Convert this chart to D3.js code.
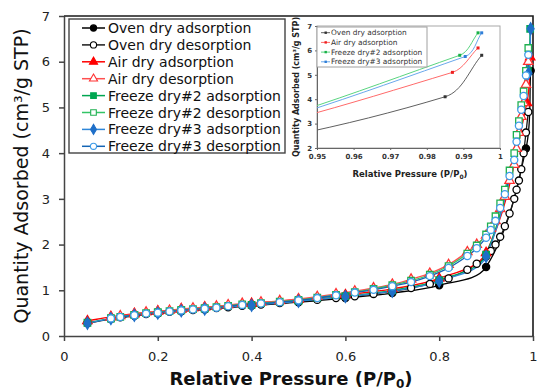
<!DOCTYPE html>
<html><head><meta charset="utf-8">
<script src="https://cdn.jsdelivr.net/npm/d3@7"></script>
<style>html,body{margin:0;padding:0;background:#fff;} svg{display:block;}</style>
</head><body>
<svg id="c" width="537" height="392"></svg>
<script>
// ---------------- DATA ----------------
const xTicks = [0, 0.2, 0.4, 0.6, 0.8, 1];
const yTicks = [0, 1, 2, 3, 4, 5, 6, 7];
const insetXTicks = [0.95, 0.96, 0.97, 0.98, 0.99, 1];
const insetYTicks = [2, 3, 4, 5, 6, 7];

const seriesNames = ["Oven dry adsorption", "Oven dry desorption", "Air dry adsorption", "Air dry desorption",
  "Freeze dry#2 adsorption", "Freeze dry#2 desorption", "Freeze dry#3 adsorption", "Freeze dry#3 desorption"];
const insetNames = ["Oven dry adsorption", "Air dry adsorption", "Freeze dry#2 adsorption", "Freeze dry#3 adsorption"];

const ovenAdsP = [0.05,0.1,0.15,0.2,0.25,0.3,0.4,0.5,0.6,0.7,0.8,0.9,0.985,0.995];
const ovenAdsQ = [0.28,0.37,0.44,0.49,0.54,0.58,0.66,0.74,0.83,0.94,1.11,1.51,4.10,5.80];
const airAdsP  = [0.05,0.1,0.15,0.2,0.25,0.3,0.4,0.5,0.6,0.7,0.8,0.9,0.987,0.994];
const airAdsQ  = [0.33,0.42,0.49,0.54,0.59,0.63,0.71,0.80,0.90,1.03,1.26,1.82,5.10,6.10];
const fd2AdsP  = [0.05,0.1,0.15,0.2,0.25,0.3,0.4,0.5,0.6,0.7,0.8,0.9,0.989,0.994];
const fd2AdsQ  = [0.29,0.38,0.46,0.51,0.56,0.60,0.68,0.77,0.87,1.00,1.22,1.78,5.80,6.72];
const fd3AdsP  = [0.05,0.1,0.15,0.2,0.25,0.3,0.4,0.5,0.6,0.7,0.8,0.9,0.9905,0.995];
const fd3AdsQ  = [0.28,0.38,0.45,0.50,0.55,0.59,0.67,0.76,0.86,0.98,1.20,1.74,5.75,6.72];

const desP = [0.99,0.985,0.98,0.975,0.97,0.965,0.96,0.95,0.94,0.93,0.92,0.91,0.9,0.88,0.86,0.82,0.78,0.74,0.7,0.66,0.62,0.58,0.54,0.5,0.46,0.42,0.38,0.35,0.325,0.3,0.275,0.25,0.225,0.2,0.175,0.15,0.12,0.1];
const ovenDesQ = [4.90,4.45,4.00,3.65,3.40,3.20,3.00,2.68,2.40,2.17,2.00,1.86,1.74,1.58,1.45,1.26,1.14,1.05,0.98,0.92,0.87,0.83,0.79,0.75,0.72,0.69,0.66,0.63,0.61,0.59,0.57,0.55,0.53,0.51,0.48,0.45,0.41,0.38];
const airDesQ  = [6.00,5.50,5.10,4.80,4.45,4.10,3.75,3.40,3.05,2.78,2.52,2.35,2.20,2.00,1.84,1.56,1.37,1.24,1.13,1.05,0.98,0.92,0.86,0.81,0.77,0.74,0.71,0.68,0.65,0.63,0.61,0.59,0.56,0.54,0.52,0.48,0.44,0.41];
const fd2DesQ  = [6.30,5.80,5.35,5.05,4.70,4.40,4.00,3.62,3.20,2.90,2.62,2.40,2.22,1.98,1.80,1.53,1.34,1.21,1.11,1.03,0.96,0.90,0.84,0.79,0.75,0.72,0.69,0.66,0.63,0.61,0.59,0.57,0.545,0.52,0.50,0.46,0.42,0.39];
const fd3DesQ  = [6.15,5.70,5.25,4.95,4.60,4.25,3.85,3.50,3.10,2.80,2.52,2.32,2.15,1.92,1.75,1.49,1.31,1.18,1.09,1.01,0.95,0.89,0.83,0.78,0.74,0.71,0.68,0.65,0.62,0.60,0.58,0.56,0.535,0.51,0.49,0.455,0.415,0.385];

// ---------------- STYLE ----------------
const FONT = "DejaVu Sans, Verdana, sans-serif";
const series = [
  {name: seriesNames[0], p: ovenAdsP, q: ovenAdsQ, shape: d3.symbolCircle,   size: 40, line: "#000000", fill: "#000000", stroke: "#000000"},
  {name: seriesNames[1], p: desP,     q: ovenDesQ, shape: d3.symbolCircle,   size: 40, line: "#1a1a1a", fill: "#ffffff", stroke: "#000000"},
  {name: seriesNames[2], p: airAdsP,  q: airAdsQ,  shape: d3.symbolTriangle, size: 38, line: "#ff0000", fill: "#ff0000", stroke: "#ff0000"},
  {name: seriesNames[3], p: desP,     q: airDesQ,  shape: d3.symbolTriangle, size: 38, line: "#ff5050", fill: "#ffffff", stroke: "#ff3030"},
  {name: seriesNames[4], p: fd2AdsP,  q: fd2AdsQ,  shape: d3.symbolSquare,   size: 42, line: "#00a651", fill: "#00a651", stroke: "#00a651"},
  {name: seriesNames[5], p: desP,     q: fd2DesQ,  shape: d3.symbolSquare,   size: 42, line: "#33c466", fill: "#ffffff", stroke: "#1fb050"},
  {name: seriesNames[6], p: fd3AdsP,  q: fd3AdsQ,  shape: d3.symbolDiamond,  size: 40, line: "#2f86d8", fill: "#1f6fc8", stroke: "#1f6fc8"},
  {name: seriesNames[7], p: desP,     q: fd3DesQ,  shape: d3.symbolCircle,   size: 40, line: "#1464b4", fill: "#ffffff", stroke: "#3d9be8"}
];

// Smoothed-line curve: tangent along neighbour chord, handle length = 1/3 of segment length
function SmoothCurve(context) { this._context = context; }
SmoothCurve.prototype = {
  areaStart() { this._line = 0; }, areaEnd() { this._line = NaN; },
  lineStart() { this._pts = []; },
  point(px, py) { this._pts.push([+px, +py]); },
  lineEnd() {
    const p = this._pts, c = this._context, n = p.length;
    if (!n) return;
    c.moveTo(p[0][0], p[0][1]);
    if (n === 2) { c.lineTo(p[1][0], p[1][1]); return; }
    const dir = i => {
      const a = p[Math.max(0, i - 1)], b = p[Math.min(n - 1, i + 1)];
      const dx = b[0] - a[0], dy = b[1] - a[1], l = Math.hypot(dx, dy) || 1;
      return [dx / l, dy / l];
    };
    for (let i = 0; i < n - 1; i++) {
      const a = p[i], b = p[i + 1];
      const k = Math.hypot(b[0] - a[0], b[1] - a[1]) / 3;
      const da = dir(i), db = dir(i + 1);
      c.bezierCurveTo(a[0] + da[0] * k, a[1] + da[1] * k, b[0] - db[0] * k, b[1] - db[1] * k, b[0], b[1]);
    }
  }
};
const curve = ctx => new SmoothCurve(ctx);

const svg = d3.select("#c");
svg.append("rect").attr("width", 537).attr("height", 392).attr("fill", "#fff");

// ---------------- MAIN CHART ----------------
const x = d3.scaleLinear().domain([0, 1]).range([64, 533]);
const y = d3.scaleLinear().domain([0, 7]).range([336, 16]);

const gx = svg.append("g").attr("transform", "translate(0,336)")
  .call(d3.axisBottom(x).tickValues(xTicks).tickFormat(d => (d === 0 || d === 1) ? String(d) : d.toFixed(1))
    .tickSize(5).tickSizeOuter(0).tickPadding(11));
const gy = svg.append("g").attr("transform", "translate(64,0)")
  .call(d3.axisLeft(y).tickValues(yTicks).tickFormat(d3.format("d")).tickSize(5).tickSizeOuter(0).tickPadding(9));
[gx, gy].forEach(g => {
  g.selectAll("path, line").attr("stroke", "#444").attr("stroke-width", 1.5);
  g.selectAll("text").attr("font-family", FONT).attr("font-size", 13).attr("fill", "#222");
});
svg.append("path").attr("d", `M${x(0)},${y(7)}H${x(1)}V${y(0)}`).attr("fill", "none").attr("stroke", "#1a1a1a").attr("stroke-width", 1.6);

const line = d3.line().x(d => x(d[0])).y(d => y(d[1])).curve(curve);
const pts = s => s.p.map((v, i) => [v, s.q[i]]).sort((a, b) => a[0] - b[0]);

const plot = svg.append("g");
series.forEach(s => {
  plot.append("path").datum(pts(s)).attr("d", line).attr("fill", "none")
    .attr("stroke", s.line).attr("stroke-width", 1.3);
});
series.forEach(s => {
  plot.append("g").selectAll("path").data(pts(s)).join("path")
    .attr("transform", d => `translate(${x(d[0])},${y(d[1])})`)
    .attr("d", d3.symbol().type(s.shape).size(s.size))
    .attr("fill", s.fill).attr("stroke", s.stroke).attr("stroke-width", 1.3);
});

// legend
const lg = svg.append("g");
lg.append("rect").attr("x", 69).attr("y", 19).attr("width", 216).attr("height", 134)
  .attr("fill", "#fff").attr("stroke", "#444").attr("stroke-width", 1.4);
series.forEach((s, i) => {
  const yy = 28 + i * 16.9;
  lg.append("line").attr("x1", 82).attr("x2", 105).attr("y1", yy).attr("y2", yy).attr("stroke", s.line).attr("stroke-width", 1.5);
  lg.append("path").attr("transform", `translate(93.5,${yy})`).attr("d", d3.symbol().type(s.shape).size(s.size * 0.75))
    .attr("fill", s.fill).attr("stroke", s.stroke).attr("stroke-width", 1.1);
  lg.append("text").attr("x", 108).attr("y", yy).attr("dy", "0.36em").attr("font-family", FONT)
    .attr("font-size", 14).attr("fill", "#111").text(s.name);
});

// axis titles
svg.append("text").attr("transform", "translate(28,176) rotate(-90)").attr("text-anchor", "middle")
  .attr("font-family", FONT).attr("font-size", 19).attr("fill", "#111").text("Quantity Adsorbed (cm³/g STP)");
const xt = svg.append("text").attr("x", 291).attr("y", 385).attr("text-anchor", "middle")
  .attr("font-family", FONT).attr("font-size", 18).attr("font-weight", "bold").attr("fill", "#111");
xt.append("tspan").text("Relative Pressure (P/P");
xt.append("tspan").attr("font-size", 12).attr("dy", 3).text("0");
xt.append("tspan").attr("dy", -3).text(")");

// ---------------- INSET ----------------
const ix = d3.scaleLinear().domain([0.95, 1]).range([317, 500]);
const iy = d3.scaleLinear().domain([2, 7]).range([148, 26]);
const inset = svg.append("g");
inset.append("rect").attr("x", 317).attr("y", 26).attr("width", 183).attr("height", 122)
  .attr("fill", "#fff").attr("stroke", "#a8a8a8").attr("stroke-width", 1);
svg.append("clipPath").attr("id", "iclip").append("rect").attr("x", 317).attr("y", 26).attr("width", 183).attr("height", 122);

const ixa = inset.append("g").attr("transform", "translate(0,148)")
  .call(d3.axisBottom(ix).tickValues(insetXTicks).tickFormat(d => d === 1 ? "1" : d.toFixed(2)).tickSize(2).tickSizeOuter(0).tickPadding(4));
const iya = inset.append("g").attr("transform", "translate(317,0)")
  .call(d3.axisLeft(iy).tickValues(insetYTicks).tickFormat(d3.format("d")).tickSize(2).tickSizeOuter(0).tickPadding(3));
[ixa, iya].forEach(g => {
  g.selectAll("path, line").attr("stroke", "#666").attr("stroke-width", 1);
  g.selectAll("text").attr("font-family", FONT).attr("font-size", 7).attr("font-weight", "bold").attr("fill", "#333");
});

const insetSeries = [
  {name: insetNames[0], src: series[0], line: "#606060", mk: "#333333"},
  {name: insetNames[1], src: series[2], line: "#ff6a6a", mk: "#ee2020"},
  {name: insetNames[2], src: series[4], line: "#5ad580", mk: "#18b048"},
  {name: insetNames[3], src: series[6], line: "#6aa8ec", mk: "#2f7fd8"}
];
const iline = d3.line().x(d => ix(d[0])).y(d => iy(d[1])).curve(curve);
const ip = inset.append("g").attr("clip-path", "url(#iclip)");
insetSeries.forEach(s => {
  const d = pts(s.src);
  ip.append("path").datum(d).attr("d", iline).attr("fill", "none").attr("stroke", s.line).attr("stroke-width", 1);
  ip.append("g").selectAll("rect").data(d.filter(p => p[0] >= 0.95)).join("rect")
    .attr("x", p => ix(p[0]) - 1.5).attr("y", p => iy(p[1]) - 1.5).attr("width", 3).attr("height", 3).attr("fill", s.mk);
});
// inset legend
const il = inset.append("g");
il.append("rect").attr("x", 317).attr("y", 27).attr("width", 110).attr("height", 40)
  .attr("fill", "#fff").attr("stroke", "#a0a0a0").attr("stroke-width", 1);
insetSeries.forEach((s, i) => {
  const yy = 32.7 + i * 9.7;
  il.append("line").attr("x1", 321).attr("x2", 330).attr("y1", yy).attr("y2", yy).attr("stroke", s.line).attr("stroke-width", 1);
  il.append("rect").attr("x", 324.5).attr("y", yy - 1.2).attr("width", 2.4).attr("height", 2.4).attr("fill", s.mk);
  il.append("text").attr("x", 331).attr("y", yy).attr("dy", "0.35em").attr("font-family", FONT)
    .attr("font-size", 7.4).attr("fill", "#333").text(s.name);
});
// inset titles
inset.append("text").attr("transform", "translate(299,87) rotate(-90)").attr("text-anchor", "middle")
  .attr("font-family", FONT).attr("font-size", 8).attr("font-weight", "bold").attr("fill", "#222")
  .text("Quantity Adsorbed (cm³/g STP)");
const ixt = inset.append("text").attr("x", 410).attr("y", 177).attr("text-anchor", "middle")
  .attr("font-family", FONT).attr("font-size", 8.5).attr("font-weight", "bold").attr("fill", "#222");
ixt.append("tspan").text("Relative Pressure (P/P");
ixt.append("tspan").attr("font-size", 6).attr("dy", 2).text("0");
ixt.append("tspan").attr("dy", -2).text(")");
</script></body></html>
